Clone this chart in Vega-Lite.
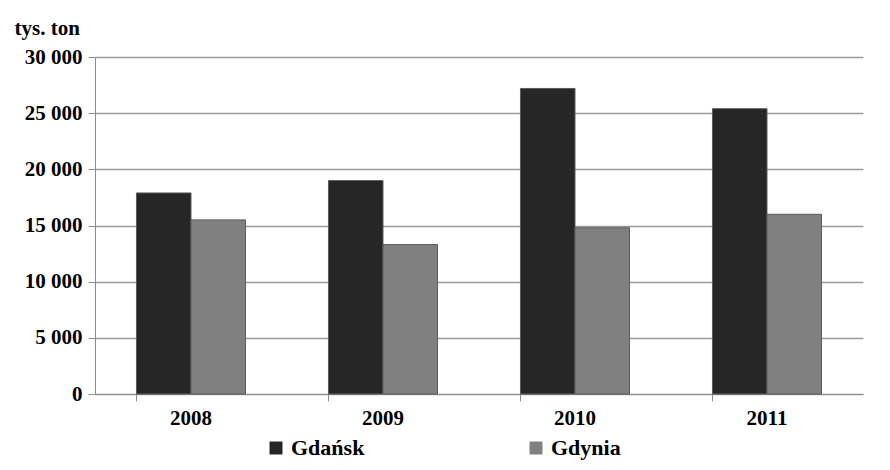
{
  "$schema": "https://vega.github.io/schema/vega-lite/v6.json",
  "width": 768,
  "height": 337,
  "autosize": "none",
  "padding": {"left": 95, "top": 57, "right": 27, "bottom": 76},
  "background": "white",
  "data": {
    "values": [
      {"rok": "2008", "port": "Gdańsk", "wartosc": 17900},
      {"rok": "2008", "port": "Gdynia", "wartosc": 15500},
      {"rok": "2009", "port": "Gdańsk", "wartosc": 19000},
      {"rok": "2009", "port": "Gdynia", "wartosc": 13300},
      {"rok": "2010", "port": "Gdańsk", "wartosc": 27200},
      {"rok": "2010", "port": "Gdynia", "wartosc": 14800},
      {"rok": "2011", "port": "Gdańsk", "wartosc": 25400},
      {"rok": "2011", "port": "Gdynia", "wartosc": 16000}
    ]
  },
  "mark": {"type": "bar", "stroke": "#5a5a5a", "strokeWidth": 1},
  "encoding": {
    "x": {
      "field": "rok",
      "type": "nominal",
      "scale": {"paddingInner": 0.432, "paddingOuter": 0.216},
      "axis": {
        "title": null,
        "labelAngle": 0,
        "bandPosition": 0,
        "tickSize": 7,
        "labelPadding": 6,
        "domainColor": "#8c8c8c",
        "tickColor": "#8c8c8c"
      }
    },
    "xOffset": {"field": "port", "type": "nominal"},
    "y": {
      "field": "wartosc",
      "type": "quantitative",
      "scale": {"domain": [0, 30000]},
      "axis": {
        "title": "tys. ton",
        "titleAngle": 0,
        "titleAlign": "left",
        "titleBaseline": "middle",
        "titleX": -81,
        "titleY": -29,
        "values": [0, 5000, 10000, 15000, 20000, 25000, 30000],
        "labelExpr": "replace(format(datum.value, ','), ',', ' ')",
        "tickSize": 7,
        "labelPadding": 6,
        "grid": true,
        "gridColor": "#9a9a9a",
        "gridWidth": 1.3,
        "domainColor": "#8c8c8c",
        "tickColor": "#8c8c8c"
      }
    },
    "color": {
      "field": "port",
      "type": "nominal",
      "scale": {"domain": ["Gdańsk", "Gdynia"], "range": ["#262626", "#808080"]},
      "legend": {
        "title": null,
        "orient": "none",
        "direction": "horizontal",
        "legendX": 170,
        "legendY": 380,
        "symbolType": "square",
        "symbolSize": 169,
        "symbolStrokeWidth": 0,
        "labelOffset": 4,
        "columnPadding": 160,
        "labelFontSize": 22,
        "labelFontWeight": "bold",
        "labelColor": "black"
      }
    }
  },
  "config": {
    "font": "Times New Roman",
    "view": {"stroke": null},
    "legend": {"labelFont": "Times New Roman"},
    "axis": {
      "labelFont": "Times New Roman",
      "labelFontSize": 21,
      "labelFontWeight": "bold",
      "labelColor": "black",
      "titleFont": "Times New Roman",
      "titleFontSize": 21,
      "titleFontWeight": "bold",
      "titleColor": "black"
    }
  }
}
